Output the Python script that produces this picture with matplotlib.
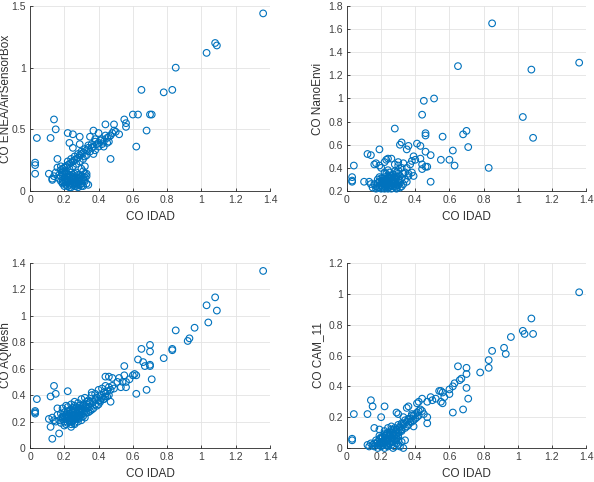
import matplotlib
matplotlib.use('Agg')
import matplotlib.pyplot as plt

plt.rcParams['font.family'] = ['Liberation Sans', 'DejaVu Sans']

x_label = "CO IDAD"
x_ticks = [0, 0.2, 0.4, 0.6, 0.8, 1.0, 1.2, 1.4]
x_tick_labels = ["0", "0.2", "0.4", "0.6", "0.8", "1", "1.2", "1.4"]

# ---- Panel 1: CO ENEA/AirSensorBox ----
enea_label = "CO ENEA/AirSensorBox"
enea_yticks = [0, 0.5, 1.0, 1.5]
enea_ytick_labels = ["0", "0.5", "1", "1.5"]
x_enea = [
    1.36, 1.08, 1.09, 1.03, 0.85, 0.65, 0.83, 0.78, 0.70, 0.71,
    0.60, 0.63, 0.55, 0.56, 0.56, 0.68, 0.62, 0.47, 0.49, 0.44,
    0.49, 0.50, 0.52, 0.14, 0.15, 0.04, 0.12, 0.22, 0.25, 0.29,
    0.23, 0.29, 0.25, 0.03, 0.03, 0.03, 0.16, 0.11, 0.13, 0.13,
    0.15,
    0.37, 0.40, 0.35, 0.38, 0.41, 0.43, 0.45, 0.46, 0.47, 0.46,
    0.39, 0.37, 0.36, 0.34, 0.33, 0.35, 0.37, 0.31, 0.30, 0.32,
    0.29, 0.28, 0.27, 0.26, 0.25, 0.24, 0.23, 0.22, 0.21, 0.20,
    0.19, 0.18, 0.22, 0.24, 0.26, 0.28, 0.30, 0.32, 0.34, 0.36,
    0.38, 0.40, 0.42, 0.44, 0.31, 0.33, 0.27, 0.29, 0.25, 0.23,
    0.21, 0.19, 0.17, 0.38, 0.40, 0.42, 0.45, 0.48, 0.43,
    0.18, 0.19, 0.20, 0.21, 0.22, 0.23, 0.24, 0.25, 0.26, 0.27,
    0.28, 0.29, 0.30, 0.31, 0.32, 0.33, 0.34, 0.18, 0.20, 0.22,
    0.24, 0.26, 0.28, 0.30, 0.32, 0.19, 0.21, 0.23, 0.25, 0.27,
    0.29, 0.31, 0.20, 0.22, 0.24, 0.26, 0.28, 0.30, 0.17, 0.19,
    0.27, 0.31, 0.33, 0.25, 0.23, 0.21, 0.28, 0.30, 0.32, 0.33,
    0.20, 0.18, 0.16, 0.14,
]
y_enea = [
    1.44, 1.20, 1.18, 1.12, 1.00, 0.82, 0.82, 0.80, 0.62, 0.62,
    0.62, 0.62, 0.58, 0.55, 0.52, 0.49, 0.36, 0.26, 0.54, 0.54,
    0.49, 0.48, 0.46, 0.58, 0.50, 0.43, 0.43, 0.47, 0.46, 0.44,
    0.39, 0.38, 0.35, 0.23, 0.21, 0.14, 0.26, 0.14, 0.10, 0.09,
    0.15,
    0.49, 0.47, 0.44, 0.42, 0.41, 0.40, 0.43, 0.44, 0.45, 0.40,
    0.38, 0.36, 0.35, 0.35, 0.33, 0.32, 0.30, 0.31, 0.30, 0.28,
    0.29, 0.27, 0.26, 0.25, 0.24, 0.23, 0.22, 0.21, 0.20, 0.19,
    0.18, 0.17, 0.24, 0.26, 0.28, 0.30, 0.32, 0.34, 0.37, 0.38,
    0.40, 0.39, 0.42, 0.45, 0.26, 0.29, 0.22, 0.24, 0.20, 0.18,
    0.16, 0.15, 0.13, 0.33, 0.36, 0.38, 0.39, 0.47, 0.36,
    0.08, 0.06, 0.07, 0.05, 0.09, 0.06, 0.08, 0.05, 0.10, 0.07,
    0.05, 0.09, 0.06, 0.04, 0.08, 0.12, 0.05, 0.12, 0.11, 0.13,
    0.12, 0.14, 0.13, 0.12, 0.14, 0.09, 0.10, 0.11, 0.09, 0.11,
    0.10, 0.09, 0.04, 0.04, 0.03, 0.04, 0.03, 0.04, 0.10, 0.13,
    0.15, 0.16, 0.06, 0.07, 0.03, 0.07, 0.08, 0.18, 0.20, 0.14,
    0.16, 0.20, 0.19, 0.12,
]
x_enea_core = [
    0.19, 0.21, 0.23, 0.25, 0.27, 0.29, 0.31, 0.22, 0.24, 0.26,
    0.28, 0.30, 0.20, 0.23, 0.26, 0.29, 0.32, 0.25, 0.27, 0.24,
]
y_enea_core = [
    0.07, 0.08, 0.05, 0.11, 0.06, 0.13, 0.11, 0.07, 0.10, 0.07,
    0.11, 0.08, 0.14, 0.13, 0.06, 0.05, 0.11, 0.13, 0.04, 0.15,
]

# ---- Panel 2: CO NanoEnvi ----
nano_label = "CO NanoEnvi"
nano_yticks = [0.2, 0.4, 0.6, 0.8, 1.0, 1.2, 1.4, 1.6, 1.8]
nano_ytick_labels = ["0.2", "0.4", "0.6", "0.8", "1", "1.2", "1.4", "1.6", "1.8"]
x_nano = [
    0.85, 1.36, 0.65, 1.08, 0.51, 0.45, 0.44, 1.03, 0.28, 0.46,
    0.46, 0.70, 0.68, 0.56, 1.09, 0.31, 0.32, 0.36, 0.41, 0.43,
    0.71, 0.19, 0.35, 0.62, 0.46, 0.49, 0.12, 0.14, 0.55, 0.60,
    0.63, 0.83, 0.49, 0.04, 0.03, 0.03, 0.03, 0.43, 0.39, 0.40,
    0.38, 0.44, 0.47, 0.46, 0.44, 0.24, 0.26, 0.23, 0.22, 0.16,
    0.17, 0.19, 0.20, 0.30, 0.33, 0.30, 0.28, 0.32, 0.35, 0.37,
    0.38, 0.36, 0.39, 0.10, 0.13, 0.14,
    0.16, 0.17, 0.18, 0.19, 0.20, 0.21, 0.22, 0.23, 0.24, 0.25,
    0.26, 0.27, 0.28, 0.29, 0.30, 0.31, 0.32, 0.33, 0.34, 0.35,
    0.18, 0.19, 0.20, 0.21, 0.22, 0.23, 0.24, 0.25, 0.26, 0.27,
    0.28, 0.29, 0.30, 0.31, 0.32, 0.20, 0.21, 0.22, 0.23, 0.24,
    0.25, 0.26, 0.27, 0.28, 0.29, 0.30, 0.22, 0.23, 0.24, 0.25,
    0.26, 0.27, 0.28, 0.19, 0.21, 0.23, 0.25, 0.27, 0.29, 0.31,
    0.33, 0.24, 0.26, 0.22, 0.28, 0.17, 0.15, 0.36, 0.34, 0.30,
]
y_nano = [
    1.65, 1.31, 1.28, 1.25, 1.00, 0.98, 0.86, 0.84, 0.74, 0.70,
    0.68, 0.72, 0.69, 0.67, 0.66, 0.60, 0.62, 0.59, 0.61, 0.59,
    0.58, 0.56, 0.56, 0.55, 0.54, 0.51, 0.52, 0.51, 0.47, 0.47,
    0.42, 0.40, 0.28, 0.42, 0.32, 0.29, 0.28, 0.48, 0.50, 0.47,
    0.46, 0.43, 0.41, 0.41, 0.39, 0.48, 0.48, 0.47, 0.45, 0.43,
    0.44, 0.42, 0.40, 0.45, 0.44, 0.42, 0.43, 0.40, 0.40, 0.43,
    0.36, 0.35, 0.33, 0.28, 0.28, 0.26,
    0.26, 0.24, 0.27, 0.23, 0.25, 0.28, 0.24, 0.26, 0.23, 0.27,
    0.25, 0.24, 0.26, 0.23, 0.25, 0.27, 0.24, 0.26, 0.30, 0.28,
    0.30, 0.28, 0.31, 0.29, 0.32, 0.30, 0.33, 0.31, 0.29, 0.34,
    0.30, 0.32, 0.35, 0.29, 0.31, 0.22, 0.23, 0.22, 0.24, 0.22,
    0.25, 0.22, 0.28, 0.24, 0.22, 0.28, 0.36, 0.35, 0.38, 0.36,
    0.33, 0.30, 0.37, 0.32, 0.27, 0.28, 0.30, 0.27, 0.26, 0.33,
    0.35, 0.29, 0.31, 0.27, 0.28, 0.22, 0.23, 0.33, 0.36, 0.38,
]
x_nano_core = [
    0.20, 0.22, 0.24, 0.26, 0.28, 0.30, 0.25, 0.23, 0.27, 0.21,
    0.19, 0.29, 0.31, 0.26, 0.24, 0.22, 0.28, 0.18, 0.25, 0.27,
]
y_nano_core = [
    0.27, 0.29, 0.31, 0.33, 0.27, 0.30, 0.32, 0.25, 0.34, 0.31,
    0.25, 0.36, 0.23, 0.25, 0.28, 0.26, 0.32, 0.23, 0.24, 0.29,
]

# ---- Panel 3: CO AQMesh ----
aq_label = "CO AQMesh"
aq_yticks = [0, 0.2, 0.4, 0.6, 0.8, 1.0, 1.2, 1.4]
aq_ytick_labels = ["0", "0.2", "0.4", "0.6", "0.8", "1", "1.2", "1.4"]
x_aq = [
    1.36, 1.08, 1.03, 1.09, 1.04, 0.96, 0.85, 0.93, 0.92, 0.70,
    0.65, 0.70, 0.83, 0.83, 0.78, 0.63, 0.66, 0.67, 0.70, 0.70,
    0.55, 0.61, 0.60, 0.62, 0.71, 0.68, 0.62, 0.55, 0.52, 0.48,
    0.46, 0.44, 0.54, 0.56, 0.51, 0.58, 0.53, 0.56, 0.49, 0.22,
    0.14, 0.15, 0.12, 0.04, 0.03, 0.03, 0.03, 0.13, 0.17, 0.12,
    0.11, 0.13, 0.15, 0.16, 0.47,
    0.17, 0.18, 0.19, 0.20, 0.21, 0.22, 0.23, 0.24, 0.25, 0.26,
    0.27, 0.28, 0.29, 0.30, 0.31, 0.32, 0.33, 0.34, 0.35, 0.36,
    0.18, 0.19, 0.20, 0.21, 0.22, 0.23, 0.24, 0.25, 0.26, 0.27,
    0.28, 0.29, 0.30, 0.31, 0.32, 0.33, 0.20, 0.21, 0.22, 0.23,
    0.24, 0.25, 0.26, 0.27, 0.28, 0.29, 0.30, 0.22, 0.24, 0.26,
    0.28, 0.30, 0.32, 0.34, 0.36, 0.37, 0.38, 0.39, 0.40, 0.41,
    0.42, 0.43, 0.44, 0.45, 0.46, 0.47, 0.38, 0.40, 0.42, 0.44,
    0.46, 0.48, 0.35, 0.37, 0.39, 0.41, 0.43, 0.45, 0.24, 0.26,
    0.19, 0.21, 0.23, 0.25, 0.27, 0.29, 0.31, 0.33, 0.16, 0.14,
]
y_aq = [
    1.34, 1.14, 1.08, 1.04, 0.95, 0.91, 0.89, 0.83, 0.81, 0.78,
    0.75, 0.73, 0.75, 0.74, 0.68, 0.67, 0.65, 0.62, 0.62, 0.63,
    0.62, 0.56, 0.55, 0.55, 0.52, 0.44, 0.41, 0.55, 0.53, 0.53,
    0.54, 0.54, 0.50, 0.50, 0.50, 0.52, 0.46, 0.46, 0.45, 0.43,
    0.47, 0.41, 0.39, 0.37, 0.28, 0.27, 0.26, 0.07, 0.11, 0.16,
    0.22, 0.23, 0.20, 0.30, 0.35,
    0.21, 0.19, 0.23, 0.20, 0.22, 0.24, 0.21, 0.23, 0.25, 0.22,
    0.26, 0.24, 0.27, 0.25, 0.28, 0.26, 0.30, 0.27, 0.31, 0.29,
    0.26, 0.24, 0.27, 0.25, 0.28, 0.26, 0.29, 0.30, 0.28, 0.31,
    0.29, 0.32, 0.30, 0.33, 0.31, 0.35, 0.17, 0.18, 0.19, 0.20,
    0.18, 0.21, 0.19, 0.22, 0.20, 0.23, 0.21, 0.31, 0.33, 0.35,
    0.34, 0.37, 0.38, 0.36, 0.40, 0.35, 0.41, 0.38, 0.44, 0.40,
    0.45, 0.42, 0.47, 0.43, 0.46, 0.44, 0.33, 0.36, 0.38, 0.41,
    0.40, 0.47, 0.34, 0.30, 0.32, 0.35, 0.37, 0.39, 0.16, 0.18,
    0.30, 0.32, 0.22, 0.24, 0.23, 0.25, 0.24, 0.27, 0.25, 0.21,
]
x_aq_core = [
    0.19, 0.21, 0.23, 0.25, 0.27, 0.29, 0.31, 0.33, 0.35, 0.22,
    0.24, 0.26, 0.28, 0.30, 0.32, 0.34, 0.20, 0.23, 0.26, 0.29,
    0.32, 0.35, 0.38, 0.41, 0.44, 0.40, 0.43, 0.36, 0.25, 0.28,
]
y_aq_core = [
    0.22, 0.24, 0.26, 0.27, 0.29, 0.30, 0.32, 0.33, 0.35, 0.23,
    0.20, 0.24, 0.22, 0.27, 0.23, 0.31, 0.24, 0.28, 0.32, 0.25,
    0.28, 0.28, 0.37, 0.36, 0.39, 0.33, 0.37, 0.42, 0.27, 0.28,
]

# ---- Panel 4: CO CAM_11 ----
cam_label = "CO CAM_11"
cam_yticks = [0, 0.2, 0.4, 0.6, 0.8, 1.0, 1.2]
cam_ytick_labels = ["0", "0.2", "0.4", "0.6", "0.8", "1", "1.2"]
x_cam = [
    1.36, 1.08, 1.03, 1.04, 1.09, 0.96, 0.85, 0.92, 0.93, 0.83,
    0.83, 0.78, 0.65, 0.70, 0.70, 0.70, 0.71, 0.68, 0.62, 0.67,
    0.66, 0.63, 0.62, 0.60, 0.60, 0.55, 0.56, 0.54, 0.57, 0.55,
    0.56, 0.50, 0.52, 0.49, 0.47, 0.44, 0.42, 0.41, 0.47, 0.47,
    0.45, 0.38, 0.39, 0.14, 0.15, 0.22, 0.04, 0.12, 0.03, 0.03,
    0.16, 0.19, 0.20, 0.29, 0.30, 0.35, 0.36, 0.33,
    0.12, 0.13, 0.14, 0.15, 0.16, 0.17, 0.18, 0.19, 0.20, 0.21,
    0.22, 0.23, 0.24, 0.25, 0.26, 0.27, 0.28, 0.29, 0.30, 0.31,
    0.32, 0.33, 0.34, 0.18, 0.19, 0.20, 0.21, 0.22, 0.23, 0.24,
    0.25, 0.26, 0.27, 0.28, 0.29, 0.30, 0.31, 0.32, 0.33, 0.34,
    0.35, 0.36, 0.37, 0.38, 0.39, 0.40, 0.41, 0.42, 0.43, 0.44,
    0.20, 0.22, 0.24, 0.26, 0.28, 0.30, 0.32, 0.34, 0.36, 0.38,
    0.40, 0.42, 0.21, 0.23, 0.25, 0.27, 0.29, 0.31, 0.19, 0.17,
    0.22, 0.24, 0.26, 0.28, 0.30, 0.27, 0.25, 0.23, 0.21, 0.29,
]
y_cam = [
    1.01, 0.84, 0.76, 0.74, 0.74, 0.72, 0.63, 0.65, 0.61, 0.57,
    0.52, 0.49, 0.53, 0.52, 0.48, 0.39, 0.32, 0.25, 0.23, 0.45,
    0.44, 0.42, 0.40, 0.38, 0.35, 0.37, 0.36, 0.37, 0.33, 0.30,
    0.29, 0.31, 0.32, 0.33, 0.30, 0.32, 0.30, 0.29, 0.20, 0.16,
    0.22, 0.22, 0.14, 0.31, 0.27, 0.27, 0.22, 0.22, 0.05, 0.06,
    0.13, 0.12, 0.20, 0.23, 0.22, 0.26, 0.27, 0.20,
    0.02, 0.01, 0.03, 0.02, 0.01, 0.03, 0.00, 0.02, 0.01, 0.03,
    0.00, 0.02, 0.01, 0.03, 0.02, 0.00, 0.01, 0.03, 0.02, 0.01,
    0.04, 0.00, 0.05, 0.04, 0.06, 0.03, 0.07, 0.05, 0.08, 0.06,
    0.09, 0.07, 0.11, 0.08, 0.12, 0.10, 0.14, 0.12, 0.16, 0.13,
    0.17, 0.15, 0.19, 0.17, 0.21, 0.19, 0.23, 0.21, 0.25, 0.24,
    0.07, 0.09, 0.10, 0.12, 0.13, 0.15, 0.16, 0.18, 0.19, 0.21,
    0.22, 0.24, 0.04, 0.06, 0.05, 0.09, 0.06, 0.11, 0.08, 0.05,
    0.11, 0.13, 0.14, 0.06, 0.05, 0.04, 0.03, 0.04, 0.02, 0.08,
]
x_cam_core = [
    0.18, 0.20, 0.22, 0.24, 0.26, 0.28, 0.30, 0.32, 0.19, 0.21,
    0.23, 0.25, 0.27, 0.29, 0.31, 0.33, 0.35, 0.37, 0.39, 0.41,
    0.24, 0.26, 0.28, 0.30, 0.22, 0.20, 0.27, 0.25, 0.23, 0.16,
]
y_cam_core = [
    0.02, 0.04, 0.03, 0.05, 0.07, 0.09, 0.08, 0.11, 0.03, 0.02,
    0.06, 0.08, 0.10, 0.12, 0.13, 0.15, 0.14, 0.17, 0.18, 0.20,
    0.02, 0.04, 0.05, 0.07, 0.08, 0.06, 0.12, 0.10, 0.09, 0.03,
]

W, H = 594, 482
fig = plt.figure(figsize=(W / 100, H / 100), dpi=100)

panels = [
    # (left, top, right, bottom) in pixels, data, y-label, y limits/ticks, ylabel x-coord
    ((30, 6, 270, 191), x_enea + x_enea_core, y_enea + y_enea_core, enea_label,
     (0, 1.5), enea_yticks, enea_ytick_labels, -0.074),
    ((347, 6, 586, 191), x_nano + x_nano_core, y_nano + y_nano_core, nano_label,
     (0.2, 1.8), nano_yticks, nano_ytick_labels, -0.096),
    ((30, 263, 270, 448), x_aq + x_aq_core, y_aq + y_aq_core, aq_label,
     (0, 1.4), aq_yticks, aq_ytick_labels, -0.074),
    ((347, 263, 586, 448), x_cam + x_cam_core, y_cam + y_cam_core, cam_label,
     (0, 1.2), cam_yticks, cam_ytick_labels, -0.096),
]

blue = '#0072BD'
axis_col = '#262626'
grid_col = '#e3e3e3'

for (l, t, r, b), xs, ys, ylab, ylim, yt, ytl, ylx in panels:
    ax = fig.add_axes([l / W, 1 - b / H, (r - l) / W, (b - t) / H])
    ax.scatter(xs, ys, s=23, facecolors='none', edgecolors=blue, linewidths=0.8,
               clip_on=False, zorder=3)
    ax.set_xlim(0, 1.4)
    ax.set_ylim(*ylim)
    ax.set_xticks(x_ticks)
    ax.set_xticklabels(x_tick_labels)
    ax.set_yticks(yt)
    ax.set_yticklabels(ytl)
    ax.grid(True, color=grid_col, linewidth=0.6)
    ax.set_axisbelow(True)
    for s in ('top', 'right'):
        ax.spines[s].set_visible(False)
    for s in ('left', 'bottom'):
        ax.spines[s].set_color(axis_col)
        ax.spines[s].set_linewidth(0.6)
    ax.tick_params(direction='in', length=2.5, width=0.6, color=axis_col,
                   labelcolor='#404040', labelsize=7.5, pad=3)
    ax.set_xlabel(x_label, fontsize=8.5, color='#303030')
    ax.set_ylabel(ylab, fontsize=8.5, color='#303030')
    ax.xaxis.set_label_coords(0.5, -0.11)
    ax.yaxis.set_label_coords(ylx, 0.5)

fig.savefig('out.png', dpi=100)
